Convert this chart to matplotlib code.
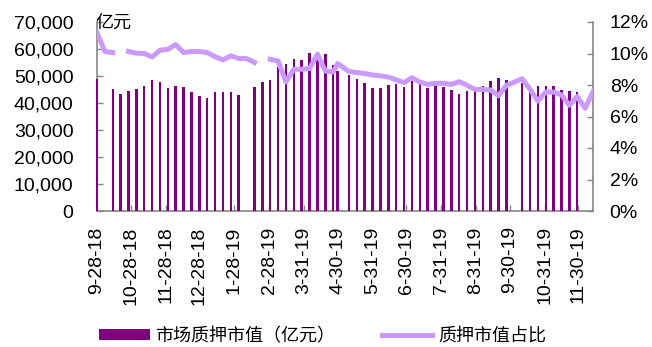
import matplotlib

matplotlib.use("Agg")

import matplotlib.pyplot as plt
from matplotlib.lines import Line2D
from matplotlib.patches import Patch
from matplotlib.ticker import FuncFormatter
import numpy as np
import pandas as pd

# weekly dates (Fridays); 5-3-19 was a holiday, the 4-30 session stands in for it
weeks = pd.date_range("2018-09-28", "2019-12-13", freq="7D")
dates = sorted([d for d in weeks if d != pd.Timestamp("2019-05-03")] + [pd.Timestamp("2019-04-30")])

# market pledged value, 100 million yuan (nan = no bar)
pledge_value = [
    48800, np.nan, 45100, 43500, 44600, 45200, 46200, 48400, 47800, 45500,
    46300, 45800, 44100, 42500, 41900, 44100, 44100, 44100, 43000, np.nan,
    45800, 47700, 48500, 53500, 54500, 56400, 55900, 58600, 58400, 58200,
    54100, 52000, 50300, 48800, 47300, 45600, 45600, 46700, 46900, 46100,
    48100, 48500, 45500, 46500, 46100, 45000, 43400, 44500, 45300, 46300,
    48200, 49100, 48400, np.nan, 47500, 46400, 46300, 46300, 46300, 44800,
    44500, 44100, np.nan, np.nan,
]

# pledged value share of market cap, %
pledge_ratio = [
    11.33, 10.13, 10.06, np.nan, 10.13, 10.02, 10.00, 9.78, 10.21, 10.26,
    10.57, 10.06, 10.13, 10.13, 10.06, 9.80, 9.59, 9.85, 9.68, 9.68,
    9.43, np.nan, 9.63, 9.53, 8.19, 9.00, 9.00, 9.04, 9.96, 8.89,
    8.83, 9.36, 8.86, 8.79, 8.73, 8.64, 8.58, 8.50, 8.33, 8.15,
    8.46, 8.19, 8.04, 8.11, 8.11, 8.04, 8.21, 7.98, 7.72, 7.72,
    7.68, 7.32, 7.98, 8.18, 8.40, 7.72, 6.98, 7.55, 7.55, 7.37,
    6.71, 7.27, 6.52, 7.58,
]

tick_dates = [
    "2018-09-28", "2018-10-28", "2018-11-28", "2018-12-28", "2019-01-28",
    "2019-02-28", "2019-03-31", "2019-04-30", "2019-05-31", "2019-06-30",
    "2019-07-31", "2019-08-31", "2019-09-30", "2019-10-31", "2019-11-30",
]
tick_labels = [
    "9-28-18", "10-28-18", "11-28-18", "12-28-18", "1-28-19",
    "2-28-19", "3-31-19", "4-30-19", "5-31-19", "6-30-19",
    "7-31-19", "8-31-19", "9-30-19", "10-31-19", "11-30-19",
]

BAR_COLOR = "#800080"
LINE_COLOR = "#CC99FF"
AXIS_GRAY = "#868686"
CJK = ["Noto Sans CJK SC", "DejaVu Sans"]

plt.rcParams["font.family"] = ["Liberation Sans", "DejaVu Sans"]

fig = plt.figure(figsize=(6.52, 3.47), dpi=100)
ax = fig.add_axes([97 / 652, 1 - 211 / 347, 496 / 652, 189 / 347])
bars = ax.bar(dates, pledge_value, width=2.2, color=BAR_COLOR, zorder=3)
for b in bars:
    b.set_clip_on(False)
ax.set_ylim(0, 70000)
ax.set_yticks(np.arange(0, 70001, 10000))
ax.yaxis.set_major_formatter(FuncFormatter(lambda v, _: f"{v:,.0f}"))
ax.set_xlim(pd.Timestamp("2018-09-28"), pd.Timestamp("2019-12-13"))
ax.set_xticks(pd.to_datetime(tick_dates))
ax.set_xticklabels(tick_labels, rotation=90)

ax2 = ax.twinx()
ax2.plot(dates, pledge_ratio, color=LINE_COLOR, linewidth=3.6, solid_joinstyle="round", zorder=3)
ax2.set_ylim(0, 12)
ax2.set_yticks(np.arange(0, 13, 2))
ax2.yaxis.set_major_formatter(FuncFormatter(lambda v, _: f"{v:.0f}%"))

for a in (ax, ax2):
    a.spines["top"].set_visible(False)
    for s in ("left", "right", "bottom"):
        a.spines[s].set_color(AXIS_GRAY)
        a.spines[s].set_linewidth(1.2)
    a.tick_params(direction="in", length=4.5, width=1, color=AXIS_GRAY, labelsize=14)
# avoid doubled spines so the first bar can sit on top of the left axis line
ax.spines["right"].set_visible(False)
ax2.spines["left"].set_visible(False)
ax2.spines["bottom"].set_visible(False)
ax.tick_params(axis="y", pad=17)
ax.tick_params(axis="x", pad=11)
ax2.tick_params(axis="y", pad=12)

fig.text(95 / 652, 1 - 28 / 347, "亿元", family=CJK, fontsize=13, va="baseline")

handles = [
    Patch(facecolor=BAR_COLOR, edgecolor="none"),
    Line2D([0], [0], color=LINE_COLOR, linewidth=3.6),
]
fig.legend(
    handles,
    ["市场质押市值（亿元）", "质押市值占比"],
    loc="center left",
    bbox_to_anchor=(99 / 652, 1 - 336 / 347),
    ncol=2,
    frameon=False,
    prop={"family": CJK, "size": 13},
    handlelength=2.8,
    handleheight=0.6,
    handletextpad=0.3,
    columnspacing=2.6,
    borderpad=0,
    borderaxespad=0,
)

fig.savefig("out.png", dpi=100)
